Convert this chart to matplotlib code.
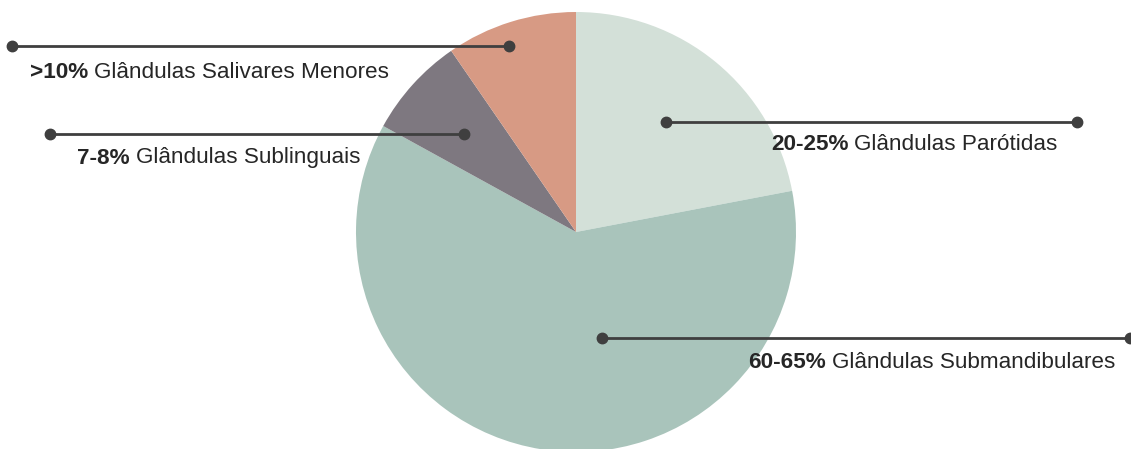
import matplotlib.pyplot as plt

plt.rcParams['font.family'] = ['Liberation Sans', 'DejaVu Sans']

# data (clockwise from 12 o'clock)
percent_labels = ['20-25%', '60-65%', '7-8%', '>10%']
names = ['Glândulas Parótidas', 'Glândulas Submandibulares',
         'Glândulas Sublinguais', 'Glândulas Salivares Menores']
shares = [22, 61, 7.4, 9.6]
colors = ['#d3e0d8', '#a9c4bb', '#7e7880', '#d79a84']

# leader lines (pixel coords: x0, x1, y) and text anchor (x, y)
lines = [(666, 1077, 122), (602, 1130, 338), (464, 50, 134), (509, 12, 46)]
texts = [(771, 145), (748, 362), (77, 158), (30, 72)]

W, H = 1131, 449
fig = plt.figure(figsize=(W / 100, H / 100), dpi=100)
ax = fig.add_axes([0, 0, 1, 1])

ax.pie(shares, colors=colors, startangle=90, counterclock=False,
       center=(576, H - 232), radius=220, frame=True,
       wedgeprops=dict(linewidth=0))
ax.set_xlim(0, W)
ax.set_ylim(0, H)
ax.set_aspect('equal')
ax.axis('off')

line_col = '#3f3f3f'
for (x0, x1, y), (tx, ty), pct, name in zip(lines, texts, percent_labels, names):
    ax.plot([x0, x1], [H - y, H - y], color=line_col, lw=2, zorder=3)
    ax.plot([x0, x1], [H - y, H - y], 'o', color=line_col, ms=7.5, zorder=4)
    t = ax.text(tx, H - ty, pct, fontsize=16.2, fontweight='bold',
                color='#262626', va='center', ha='left')
    fig.canvas.draw()
    bb = t.get_window_extent()
    ax.text(bb.x1 + 6, H - ty, name, fontsize=16.2, color='#262626',
            va='center', ha='left')

fig.savefig('out.png', dpi=100)
